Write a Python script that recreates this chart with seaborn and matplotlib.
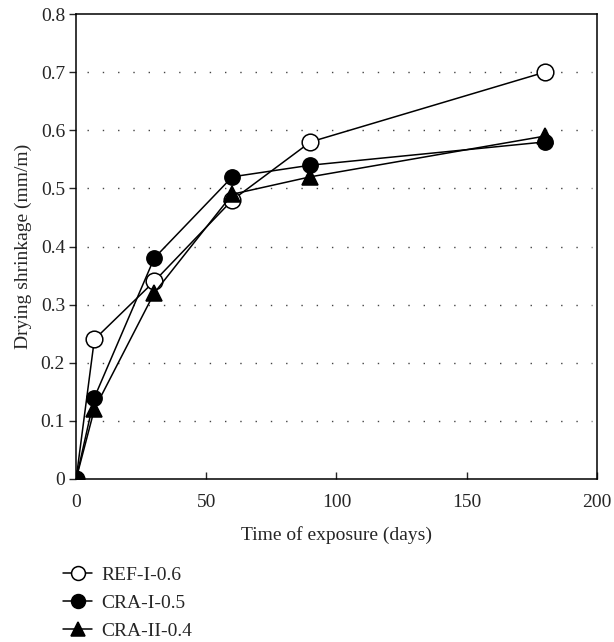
import matplotlib
matplotlib.use("Agg")
import matplotlib.pyplot as plt
import seaborn as sns
import pandas as pd

sns.set_theme(style="white")
plt.rcParams['font.family'] = ['Liberation Serif', 'DejaVu Serif']

days = [0, 7, 30, 60, 90, 180]
ref_i_06 = [0.0, 0.24, 0.34, 0.48, 0.58, 0.70]
cra_i_05 = [0.0, 0.14, 0.38, 0.52, 0.54, 0.58]
cra_ii_04 = [0.0, 0.12, 0.32, 0.49, 0.52, 0.59]
series_names = ["REF-I-0.6", "CRA-I-0.5", "CRA-II-0.4"]

df = pd.DataFrame({
    "days": days * 3,
    "shrinkage": ref_i_06 + cra_i_05 + cra_ii_04,
    "series": sum([[n] * len(days) for n in series_names], []),
})

fig = plt.figure(figsize=(6.14, 6.42), dpi=100)
ax = fig.add_axes([0.124, 0.254, 0.848, 0.724])

for y in [0.1, 0.2, 0.3, 0.4, 0.5, 0.6, 0.7]:
    ax.axhline(y, xmin=0.02, xmax=0.99, color="#444444", linestyle=(0, (1, 10)),
               linewidth=1.0, zorder=0)

styles = {
    "REF-I-0.6": dict(marker="o", markerfacecolor="white", markersize=12),
    "CRA-I-0.5": dict(marker="o", markerfacecolor="black", markersize=11),
    "CRA-II-0.4": dict(marker="^", markerfacecolor="black", markersize=11),
}
for name in series_names:
    sub = df[df["series"] == name]
    sns.lineplot(data=sub, x="days", y="shrinkage", ax=ax, color="black",
                 linewidth=1.1, markeredgecolor="black", markeredgewidth=1.1,
                 label=name, **styles[name])

ax.set_xlim(0, 200)
ax.set_ylim(0, 0.8)
ax.set_xticks([0, 50, 100, 150, 200])
ax.set_xticklabels(["0", "50", "100", "150", "200"])
ax.set_yticks([0, 0.1, 0.2, 0.3, 0.4, 0.5, 0.6, 0.7, 0.8])
ax.set_yticklabels(["0", "0.1", "0.2", "0.3", "0.4", "0.5", "0.6", "0.7", "0.8"])
ax.tick_params(axis="x", direction="in", length=5, width=1, labelsize=14, pad=11, bottom=True)
ax.tick_params(axis="y", direction="out", length=5, width=1, labelsize=14, pad=3, left=True)
for s in ax.spines.values():
    s.set_visible(True)
    s.set_color("black")
    s.set_linewidth(1.1)
ax.set_xlabel("Time of exposure (days)", fontsize=14, labelpad=11)
ax.set_ylabel("Drying shrinkage (mm/m)", fontsize=14, labelpad=6)

leg = ax.legend(loc="upper left", bbox_to_anchor=(-0.04, -0.172), frameon=False,
                fontsize=14, handlelength=1.5, handletextpad=0.45, labelspacing=0.52,
                borderaxespad=0)
for h in leg.legend_handles:
    h.set_markersize(10)

fig.savefig("out.png", dpi=100)
